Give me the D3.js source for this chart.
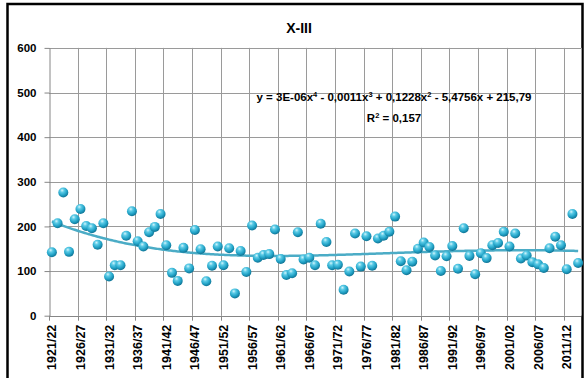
<!DOCTYPE html>
<html><head><meta charset="utf-8">
<script src="https://cdn.jsdelivr.net/npm/d3@7/dist/d3.min.js"></script>
<style>
html,body{margin:0;padding:0;background:#fff;}
svg{display:block;font-family:"Liberation Sans",Arial,sans-serif;}
</style></head>
<body>
<svg id="chart" width="585" height="378"></svg>
<script>
const categories = ["1921/22","1922/23","1923/24","1924/25","1925/26","1926/27","1927/28","1928/29","1929/30","1930/31",
"1931/32","1932/33","1933/34","1934/35","1935/36","1936/37","1937/38","1938/39","1939/40","1940/41",
"1941/42","1942/43","1943/44","1944/45","1945/46","1946/47","1947/48","1948/49","1949/50","1950/51",
"1951/52","1952/53","1953/54","1954/55","1955/56","1956/57","1957/58","1958/59","1959/60","1960/61",
"1961/62","1962/63","1963/64","1964/65","1965/66","1966/67","1967/68","1968/69","1969/70","1970/71",
"1971/72","1972/73","1973/74","1974/75","1975/76","1976/77","1977/78","1978/79","1979/80","1980/81",
"1981/82","1982/83","1983/84","1984/85","1985/86","1986/87","1987/88","1988/89","1989/90","1990/91",
"1991/92","1992/93","1993/94","1994/95","1995/96","1996/97","1997/98","1998/99","1999/00","2000/01",
"2001/02","2002/03","2003/04","2004/05","2005/06","2006/07","2007/08","2008/09","2009/10","2010/11",
"2011/12","2012/13","2013/14"];
const values = [142,207,276,143,216,239,201,196,159,207,
88,113,113,179,234,167,155,187,199,228,
158,96,78,152,106,192,149,77,112,155,
113,151,50,145,98,202,130,136,138,193,
127,91,95,187,126,130,113,206,165,113,
114,58,99,184,110,178,112,173,179,188,
222,122,102,121,150,164,154,135,100,133,
156,105,196,134,93,140,129,158,163,188,
155,184,128,135,120,115,107,151,177,158,
104,228,118];
const yTicks = [0,100,200,300,400,500,600];
const title = "X-III";
const rSquared = "0,157";

const svg = d3.select("#chart");
const L = 49, R = 581, T = 47.9, B = 315.7;

const x = d3.scaleBand().domain(categories).range([L, R]).padding(0);
const y = d3.scaleLinear().domain([0, 600]).range([B, T]);
const bw = x.bandwidth();
const cx = c => x(c) + bw / 2;

// defs: sphere gradient
const defs = svg.append("defs");
const g = defs.append("radialGradient").attr("id","sph").attr("cx","40%").attr("cy","32%").attr("r","65%").attr("fx","38%").attr("fy","28%");
[["0%","#d4f5fc"],["30%","#5ccbe6"],["70%","#23a4c8"],["100%","#12799a"]].forEach(s=>g.append("stop").attr("offset",s[0]).attr("stop-color",s[1]));

// outer border
svg.append("rect").attr("x",7.5).attr("y",4).attr("width",575).attr("height",420)
  .attr("fill","none").attr("stroke","#000").attr("stroke-width",2.5);

// title
svg.append("text").attr("x",299).attr("y",33).attr("text-anchor","middle")
  .attr("font-weight","bold").attr("font-size",14).text(title);

// gridlines
const grid = svg.append("g").attr("stroke","#9a9a9a").attr("stroke-width",1);
grid.selectAll("line.h").data(yTicks.filter(d=>d>0)).join("line")
  .attr("x1",L).attr("x2",R).attr("y1",d=>Math.round(y(d))+0.5).attr("y2",d=>Math.round(y(d))+0.5);
const bounds = categories.filter((c,i)=>i%5===0 && i>0).map(c=>x(c));
bounds.push(R);
grid.selectAll("line.v").data(bounds).join("line")
  .attr("x1",d=>Math.round(d)+0.5).attr("x2",d=>Math.round(d)+0.5).attr("y1",T).attr("y2",B);

// y axis
const yAxis = svg.append("g").attr("transform",`translate(${L+0.5},0)`)
  .call(d3.axisLeft(y).tickValues(yTicks).tickSize(5).tickPadding(8).tickSizeOuter(0));
yAxis.select(".domain").attr("stroke","#868686");
yAxis.selectAll(".tick line").attr("stroke","#868686");
yAxis.selectAll("text").attr("font-size",11.5).attr("font-weight","bold").attr("fill","#000")
  .attr("font-family","Liberation Sans,Arial,sans-serif");

// x axis line and ticks
const xg = svg.append("g");
xg.append("line").attr("x1",L).attr("x2",R).attr("y1",Math.round(B)+0.5).attr("y2",Math.round(B)+0.5)
  .attr("stroke","#868686");
const tickPos = categories.filter((c,i)=>i%5===0).map(c=>x(c));
xg.selectAll("line.t").data(tickPos).join("line")
  .attr("x1",d=>Math.round(d)+0.5).attr("x2",d=>Math.round(d)+0.5)
  .attr("y1",B).attr("y2",B+5).attr("stroke","#868686");
xg.selectAll("text").data(categories.filter((c,i)=>i%5===0)).join("text")
  .attr("transform",d=>`translate(${cx(d)},${B+9}) rotate(-90)`)
  .attr("text-anchor","end").attr("dy","0.36em")
  .attr("font-size",12.5).attr("font-weight","bold").text(d=>d);

// polynomial trend (degree 4, least squares on index 1..n)
function polyfit(xs, ys, deg){
  const m = deg+1;
  const A = Array.from({length:m},()=>new Array(m+1).fill(0));
  for(let k=0;k<xs.length;k++){
    const p=[1]; for(let j=1;j<2*m;j++) p.push(p[j-1]*xs[k]);
    for(let r=0;r<m;r++){ for(let c=0;c<m;c++) A[r][c]+=p[r+c]; A[r][m]+=p[r]*ys[k]; }
  }
  for(let i=0;i<m;i++){
    let piv=i; for(let r=i+1;r<m;r++) if(Math.abs(A[r][i])>Math.abs(A[piv][i])) piv=r;
    [A[i],A[piv]]=[A[piv],A[i]];
    for(let r=0;r<m;r++){ if(r===i) continue; const f=A[r][i]/A[i][i]; for(let c=i;c<=m;c++) A[r][c]-=f*A[i][c]; }
  }
  return A.map((row,i)=>row[m]/row[i]);
}
const n = categories.length, mid = (n+1)/2, sc = (n-1)/2;
const xs = values.map((v,i)=>((i+1)-mid)/sc);
const coef = polyfit(xs, values, 4);
const xi = d3.scaleLinear().domain([1,n]).range([cx(categories[0]), cx(categories[n-1])]);
const trend = d3.range(1, n+0.001, 0.25).map(t=>{
  const u=(t-mid)/sc; let v=0; for(let j=coef.length-1;j>=0;j--) v=v*u+coef[j]; return [t,v];
});
svg.append("path").datum(trend)
  .attr("d", d3.line().x(d=>xi(d[0])).y(d=>y(d[1])).curve(d3.curveLinear))
  .attr("fill","none").attr("stroke","#4bacc6").attr("stroke-width",2.5);

// points
svg.append("g").selectAll("circle").data(values).join("circle")
  .attr("cx",(d,i)=>cx(categories[i])).attr("cy",d=>y(d)).attr("r",5)
  .attr("fill","url(#sph)");

// equation
const eq = svg.append("text").attr("x",394).attr("y",101).attr("text-anchor","middle")
  .attr("font-size",11.5).attr("font-weight","bold");
const parts = [["y = 3E-06x",""],["4","sup"],[" - 0,0011x",""],["3","sup"],[" + 0,1228x",""],["2","sup"],[" - 5,4756x + 215,79",""]];
parts.forEach((p,i)=>{
  const ts = eq.append("tspan").text(p[0]);
  if(p[1]==="sup") ts.attr("font-size",7.5).attr("dy",-4.5);
  else if(i>0) ts.attr("dy",4.5);
});
const r2 = svg.append("text").attr("x",394).attr("y",122).attr("text-anchor","middle")
  .attr("font-size",11.5).attr("font-weight","bold");
r2.append("tspan").text("R");
r2.append("tspan").text("2").attr("font-size",7.5).attr("dy",-4.5);
r2.append("tspan").text(" = " + rSquared).attr("dy",4.5);
</script>
</body></html>
